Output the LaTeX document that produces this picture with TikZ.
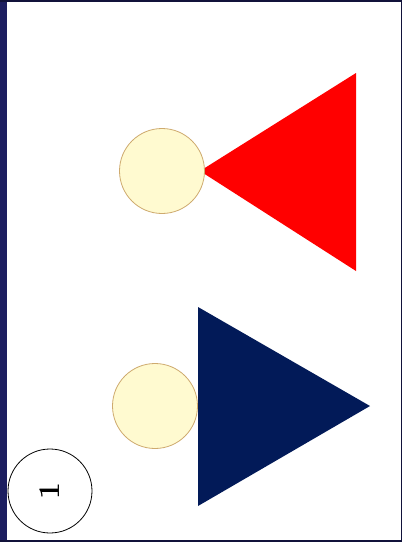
\documentclass[tikz,border=0pt]{standalone}
\definecolor{frameblue}{RGB}{28, 30, 96}
\definecolor{navytri}{RGB}{2, 26, 88}
\definecolor{ballfill}{RGB}{255, 250, 208}
\definecolor{balledge}{RGB}{206, 170, 110}
\usepackage{tikz}
\usetikzlibrary{positioning}

\begin{document}
\begin{tikzpicture}[x=1pt, y=-1pt,
    ball/.style={circle, draw=balledge, fill=ballfill, minimum size=85pt, inner sep=0pt, line width=0.8pt}]
  % frame
  \fill[white] (0,0) rectangle (402,542);
  \useasboundingbox (0,0) rectangle (402,542);
  \fill[frameblue] (0,0) rectangle (7,542);
  \draw[frameblue!60!black, line width=2pt] (0,1) -- (402,1);
  \draw[frameblue!60!black, line width=2pt] (0,541) -- (402,541);
  \draw[frameblue!60!black, line width=1.2pt] (401.4,0) -- (401.4,542);

  % upper pair
  \fill[red] (200,171) -- (356,73) -- (356,271) -- cycle;
  \node[ball] (ballA) at (162,171) {};

  % lower pair
  \node[ball] (ballB) at (155,406) {};
  \fill[navytri] (198,307) -- (370,406) -- (198,506) -- cycle;

  % page number
  \node[circle, draw=black, minimum size=84pt, inner sep=0pt, line width=0.8pt,
        font=\fontsize{30}{30}\selectfont\bfseries, rotate=90] (pagenum) at (50,491) {1};
\end{tikzpicture}
\end{document}
